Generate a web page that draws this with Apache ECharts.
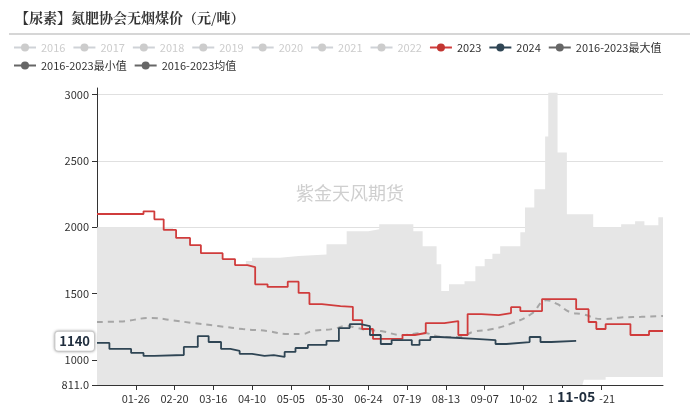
<!DOCTYPE html>
<html><head><meta charset="utf-8">
<script src="https://cdn.jsdelivr.net/npm/echarts@6/dist/echarts.min.js"></script>
<style>html,body{margin:0;padding:0;background:#fff}#c{width:700px;height:408px}</style>
</head><body><div id="c"></div>
<script>
// categories: every day of a (leap) year, MM-DD
const categories = [];
(function(){const md=[31,29,31,30,31,30,31,31,30,31,30,31];for(let m=0;m<12;m++)for(let d=1;d<=md[m];d++)categories.push(String(m+1).padStart(2,'0')+'-'+String(d).padStart(2,'0'));})();

const yLabelValues = [811,1000,1500,2000,2500,3000];
const grayYears = ['2016','2017','2018','2019','2020','2021','2022'];

const s2023 = [['01-01',2100],['01-31',2120],['02-07',2060],['02-13',1980],['02-21',1920],['03-01',1865],['03-08',1805],['03-22',1760],['03-30',1715],['04-07',1700],['04-12',1570],['04-20',1550],['05-03',1590],['05-10',1505],['05-17',1420],['05-25',1406],['06-06',1400],['06-14',1300],['06-20',1233],['06-27',1158],['07-16',1188],['07-24',1203],['07-31',1278],['08-12',1293],['08-21',1188],['08-27',1346],['09-05',1338],['09-16',1353],['09-24',1398],['09-30',1368],['10-14',1459],['11-05',1383],['11-13',1286],['11-18',1233],['11-24',1270],['12-10',1188],['12-22',1218],['12-31',1218]];

const s2024 = [['01-01',1128],['01-09',1083],['01-23',1053],['01-31',1030],['02-07',1037],['02-26',1098],['03-06',1180],['03-13',1135],['03-21',1083],['03-27',1068],['04-02',1045],['04-10',1030],['04-18',1037],['04-24',1023],['05-01',1060],['05-08',1090],['05-16',1113],['05-28',1143],['06-05',1240],['06-12',1270],['06-19',1255],['06-25',1188],['07-02',1120],['07-09',1150],['07-22',1113],['07-27',1150],['08-03',1173],['08-09',1158],['09-01',1150],['09-14',1120],['09-21',1135],['10-06',1173],['10-13',1135],['10-20',1143],['11-05',1140]];

const sMax = [['01-01',2000],['02-19',1980],['02-21',1920],['03-01',1865],['03-08',1805],['03-22',1760],['03-30',1715],['04-06',1745],['04-10',1770],['04-28',1783],['05-10',1795],['05-28',1872],['06-10',1970],['06-24',1985],['07-01',2022],['07-23',1970],['07-29',1857],['08-07',1722],['08-10',1519],['08-15',1571],['08-25',1594],['09-01',1707],['09-07',1760],['09-12',1800],['09-17',1857],['09-30',1962],['10-03',2150],['10-09',2286],['10-16',2684],['10-18',3015],['10-24',2564],['10-30',2098],['11-16',2000],['12-04',2022],['12-13',2045],['12-19',2015],['12-28',2075],['12-31',2075]];

const sMin = [['01-01',811],['11-09',811],['11-10',850],['11-24',872],['12-31',872]];

const sMean = [['01-01',1286],['01-16',1290],['02-05',1316],['02-18',1300],['03-03',1278],['03-19',1256],['04-04',1233],['04-20',1218],['05-03',1195],['05-12',1195],['05-19',1218],['06-01',1233],['06-10',1256],['06-17',1240],['06-23',1226],['07-02',1218],['07-16',1188],['07-29',1203],['08-11',1173],['08-23',1173],['08-30',1210],['09-12',1233],['09-25',1278],['10-07',1346],['10-17',1450],['10-24',1420],['11-01',1361],['11-09',1345],['11-22',1308],['12-04',1320],['12-17',1325],['12-31',1331]];

const chart = echarts.init(document.getElementById('c'));
const font = '"Noto Sans CJK SC","Noto Sans",sans-serif';
const series = [];
const common = {type:'line',symbol:'circle',symbolSize:8,showSymbol:false};
grayYears.forEach(y=>series.push({...common,name:y,data:[],itemStyle:{color:'#ccc'}}));
series.push({...common,name:'2016-2023最大值',step:'end',data:sMax,lineStyle:{width:0},areaStyle:{color:'#e6e6e6',opacity:1,origin:'start'},itemStyle:{color:'#666'},z:1});
series.push({...common,name:'2016-2023最小值',step:'end',data:sMin,lineStyle:{width:0},areaStyle:{color:'#fff',opacity:1,origin:'start'},itemStyle:{color:'#666'},z:1});
series.push({...common,name:'2016-2023均值',smooth:true,data:sMean,lineStyle:{color:'#a6a6a6',width:2,type:[6,5]},itemStyle:{color:'#666'},z:3});
series.push({...common,name:'2023',step:'end',data:s2023,lineStyle:{color:'#d03c3c',width:1.8},itemStyle:{color:'#c23531'},z:4});
series.push({...common,name:'2024',step:'end',data:s2024,lineStyle:{color:'#2f4554',width:1.8},itemStyle:{color:'#2f4554'},z:5});

const sel = {}; grayYears.forEach(y=>sel[y]=false);
const solid = {type:'solid',width:2};
chart.setOption({
  animation:false,
  textStyle:{fontFamily:font},
  title:{text:'【尿素】氮肥协会无烟煤价（元/吨）',left:10,top:6,textStyle:{fontSize:14,fontWeight:'bold',color:'#333',fontFamily:'"Noto Serif CJK SC","Noto Sans CJK SC",serif'}},
  graphic:[
    {type:'line',shape:{x1:9,y1:34,x2:690,y2:34},style:{stroke:'#c8c8c8',lineWidth:1.5}},
    {type:'text',left:'center',top:184,style:{text:'紫金天风期货',fill:'#cfcfcf',font:'18px "Noto Sans CJK SC"'},z:10}
  ],
  legend:{left:8,top:37,width:692,itemWidth:22,itemHeight:10,itemGap:7,
    textStyle:{fontSize:11,color:'#333'},inactiveColor:'#ccc',selected:sel,
    data:[...grayYears,'2023','2024',
      {name:'2016-2023最大值',lineStyle:{...solid,color:'#666'}},
      {name:'2016-2023最小值',lineStyle:{...solid,color:'#666'}},
      {name:'2016-2023均值',lineStyle:{...solid,color:'#666'}}]},
  grid:{left:97,right:37,top:88,bottom:23},
  xAxis:{type:'category',data:categories,boundaryGap:false,
    axisLine:{lineStyle:{color:'#333'}},
    axisTick:{interval:(i)=>i>0&&i%25===0&&i<=325,lineStyle:{color:'#333'}},
    axisLabel:{interval:(i)=>i>0&&i%25===0&&i<=325,color:'#333',fontSize:11},
    axisPointer:{show:true,value:'11-05',status:'show',type:'line',lineStyle:{opacity:0},
      label:{show:true,backgroundColor:'#fff',color:'#1f2d3d',fontWeight:'bold',fontSize:14,padding:[2,4]}}},
  yAxis:{type:'value',min:811,max:3050,
    axisLine:{show:true,lineStyle:{color:'#333'}},
    axisTick:{show:true,customValues:yLabelValues,lineStyle:{color:'#333'}},
    axisLabel:{customValues:yLabelValues,color:'#333',fontSize:11,formatter:v=>v===811?'811.0':String(v)},
    splitLine:{lineStyle:{color:'#e0e0e0'}},
    axisPointer:{show:true,value:1140,status:'show',type:'line',lineStyle:{opacity:0},
      label:{show:true,backgroundColor:'#fff',color:'#1f2d3d',fontWeight:'bold',fontSize:13,padding:[3,4],borderColor:'#ddd',borderWidth:1,shadowBlur:3,shadowColor:'rgba(0,0,0,0.3)',formatter:()=>'1140'}}},
  tooltip:{show:false},
  series
});
</script></body></html>
